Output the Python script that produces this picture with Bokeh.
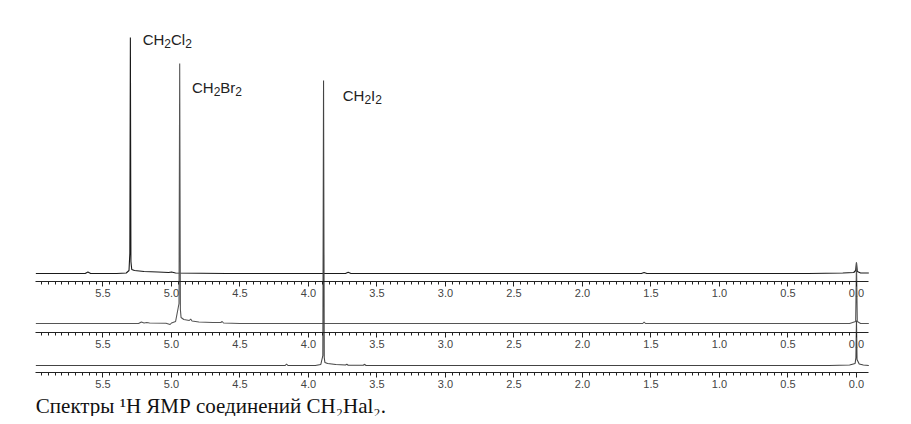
from bokeh.plotting import figure
from bokeh.models import Range1d, LinearAxis, FixedTicker, Label, PrintfTickFormatter
from bokeh.embed import file_html
from bokeh.resources import INLINE

# ---- data (ppm, relative intensity) ----
cl_ppm = [5.99, 5.63, 5.61, 5.59, 5.40, 5.33, 5.31, 5.304, 5.300, 5.296, 5.29, 5.27, 5.20, 5.10,
          5.02, 5.00, 4.97, 4.60, 3.73, 3.71, 3.69, 1.57, 1.55, 1.53, 0.35, 0.10, 0.02, 0.006,
          0.0, -0.006, -0.03, -0.09]
cl_int = [0, 0, 1.5, 0, 0, 0.5, 3, 20, 236, 12, 4, 3, 2, 1.5,
          1, 1.5, 0.5, 0, 0, 1.2, 0, 0, 1, 0, 0, 0.5, 1, 3,
          11, 2, 0.5, 0.5]

br_ppm = [5.99, 5.30, 5.24, 5.22, 5.20, 5.18, 5.16, 5.04, 5.01, 5.00, 4.97, 4.945, 4.940, 4.935,
          4.93, 4.91, 4.87, 4.86, 4.85, 4.80, 4.70, 4.64, 4.63, 4.62, 4.50, 1.56, 1.55, 1.54,
          0.05, 0.006, 0.0, -0.006, -0.03, -0.09]
br_int = [0, 0, 0, 1.5, 0.5, 1, 0.5, 0.3, -1, 0.5, 2, 20, 260, 14,
          6, 4, 3, 4.5, 2.5, 1.5, 1, 1, 2, 0.5, 0, 0, 1.5, 0,
          0, 2, 61, 2, 0, 0]

i_ppm = [5.99, 4.30, 4.17, 4.16, 4.15, 3.95, 3.91, 3.895, 3.890, 3.885, 3.88, 3.86, 3.80, 3.73,
         3.72, 3.71, 3.60, 3.59, 3.58, 3.40, 0.20, 0.05, 0.01, 0.004, 0.0, -0.004, -0.02, -0.05, -0.09]
i_int = [0, 0, 0, 1.5, 0, 0, 1, 10, 285, 8,
         3, 2, 1, 0.5, 1.2, 0.3, 0.3, 1.2, 0, 0, 0, 0.5, 2, 8, 45, 6, 1.5, 0.5, 0]

tick_vals = [0.0, 0.5, 1.0, 1.5, 2.0, 2.5, 3.0, 3.5, 4.0, 4.5, 5.0, 5.5]
minor_vals = [round(i * 0.05, 2) for i in range(0, 120)]

# peak labels as (text, is_subscript) pieces
peak_labels = [
    [("CH", False), ("2", True), ("Cl", False), ("2", True)],
    [("CH", False), ("2", True), ("Br", False), ("2", True)],
    [("CH", False), ("2", True), ("I", False), ("2", True)],
]
caption = "\u0421\u043f\u0435\u043a\u0442\u0440\u044b \u00b9H \u042f\u041c\u0420 \u0441\u043e\u0435\u0434\u0438\u043d\u0435\u043d\u0438\u0439 CH\u2082Hal\u2082."

# ---- layout constants (y in px-like units, 0 = bottom of window) ----
W, H = 903, 416
base_top, base_mid, base_bot = 151, 101, 59
axis_top, axis_mid, axis_bot = 143, 92, 52

p = figure(width=W, height=H, output_backend="svg", toolbar_location=None,
           x_range=Range1d(6.248, 6.248 - W / 137.0), y_range=Range1d(424 - H, 424),
           x_axis_location=None, y_axis_location=None, min_border=0,
           outline_line_color=None)
p.grid.visible = False

p.line(cl_ppm, [base_top + v for v in cl_int], line_color="#1a1a1a", line_width=1.1)
p.line(br_ppm, [base_mid + v for v in br_int], line_color="#555555", line_width=1.1)
p.line(i_ppm, [base_bot + v for v in i_int], line_color="#444444", line_width=1.1)

for loc in (axis_top, axis_mid, axis_bot):
    ax = LinearAxis(fixed_location=loc, bounds=(-0.09, 5.99),
                    ticker=FixedTicker(ticks=tick_vals, minor_ticks=minor_vals),
                    formatter=PrintfTickFormatter(format="%.1f"))
    ax.axis_line_color = "#222222"
    ax.major_tick_line_color = "#222222"
    ax.minor_tick_line_color = "#222222"
    ax.major_tick_out = 5
    ax.major_tick_in = 0
    ax.minor_tick_out = 3
    ax.minor_tick_in = 0
    ax.major_label_text_font = "Liberation Sans"
    ax.major_label_text_font_size = "11px"
    ax.major_label_text_color = "#444444"
    ax.major_label_standoff = 2
    p.add_layout(ax, "below")

# approximate Liberation Sans advance widths (em) for composing sub-scripted labels
adv = {"C": 0.722, "H": 0.722, "l": 0.222, "B": 0.667, "r": 0.333, "I": 0.278, "2": 0.556}
main_size, sub_size = 15, 12
label_pos = [(5.21, 385), (4.85, 337), (3.75, 329)]
for (lx, ly), pieces in zip(label_pos, peak_labels):
    off = 0.0
    for txt, sub in pieces:
        size = sub_size if sub else main_size
        p.add_layout(Label(x=lx, y=ly, x_offset=off, y_offset=-4 if sub else 0, text=txt,
                           text_font="Liberation Sans", text_font_size=f"{size}px",
                           text_color="#222222", text_baseline="middle", text_align="left"))
        off += sum(adv.get(c, 0.6) for c in txt) * size

p.add_layout(Label(x=5.99, y=19, text=caption, text_font="Liberation Serif",
                   text_font_size="21px", text_color="#111111",
                   text_baseline="middle", text_align="left"))

open("out.html", "w").write(file_html(p, INLINE))
